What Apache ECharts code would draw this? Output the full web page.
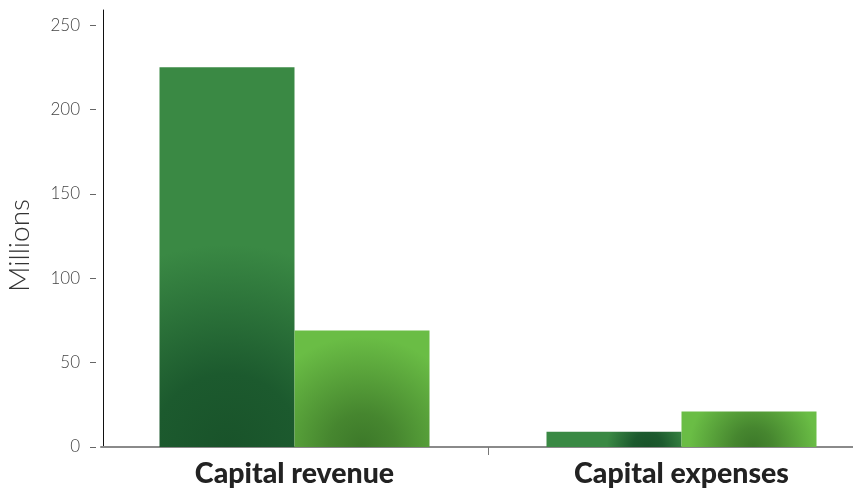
<!DOCTYPE html>
<html>
<head>
<meta charset="utf-8">
<style>
  html, body { margin: 0; padding: 0; background: #fff; }
  #chart { width: 853px; height: 488px; }
</style>
<script src="https://cdn.jsdelivr.net/npm/echarts@6/dist/echarts.min.js"></script>
</head>
<body>
<div id="chart"></div>
<script>
// Capital revenue vs. capital expenses, in millions
const categories = ['Capital revenue', 'Capital expenses'];
const seriesA = [225, 9];
const seriesB = [69, 21];
const yTicks = [0, 50, 100, 150, 200, 250];
const yAxisTitle = 'Millions';

// Dark glow rising from the foot of each bar
const glowA = { inner: '#19532a', mid: '#1c5a2e', outer: '#3a8944', stop: 0.36, r: [1.5, 2.7], x: [0.5, 0.75] };
const glowB = { inner: '#3c7829', mid: '#46862f', outer: '#6abd45', stop: 0.3, r: [0.95, 1.8], x: [0.5, 0.53] };

function glowColor(g) {
  return function (p) {
    const i = p.dataIndex;
    return new echarts.graphic.RadialGradient(g.x[i], 1, g.r[i], [
      { offset: 0, color: g.inner },
      { offset: g.stop, color: g.mid },
      { offset: 1, color: g.outer }
    ]);
  };
}

const chart = echarts.init(document.getElementById('chart'), null, { renderer: 'canvas' });

const yRange = { min: 0, max: 259 };

chart.setOption({
  animation: false,
  backgroundColor: '#ffffff',
  grid: {
    left: 101, width: 774, top: 10, bottom: 41,
    containLabel: false, outerBoundsMode: 'none'
  },
  xAxis: [
    {
      type: 'category',
      data: categories,
      axisLine: { show: true, lineStyle: { color: '#8a8a8a', width: 2 } },
      axisTick: { show: false },
      axisLabel: { show: false },
      splitLine: { show: false }
    },
    {
      // labels centred on each category, one divider tick between them
      type: 'value',
      min: 0, max: categories.length,
      position: 'bottom',
      offset: 4,
      axisLine: { show: false },
      axisTick: {
        show: true, length: 8, customValues: [1],
        lineStyle: { color: '#777', width: 1 }
      },
      axisLabel: {
        show: true, margin: 8,
        customValues: categories.map(function (c, i) { return i + 0.5; }),
        formatter: function (v) { return categories[Math.floor(v)]; },
        fontFamily: 'Lato', fontWeight: 900, fontSize: 28.5, color: '#222'
      },
      splitLine: { show: false }
    }
  ],
  yAxis: [
    {
      type: 'value', min: yRange.min, max: yRange.max, offset: -2,
      axisLine: { show: true, lineStyle: { color: '#111', width: 1 } },
      axisTick: { show: false },
      axisLabel: { show: false },
      splitLine: { show: false }
    },
    {
      type: 'value', min: yRange.min, max: yRange.max, offset: 5,
      position: 'left',
      name: yAxisTitle,
      nameLocation: 'middle',
      nameGap: 62,
      nameRotate: 90,
      nameTextStyle: {
        fontFamily: 'Lato', fontWeight: 300, fontSize: 28, color: '#333',
        padding: [0, 34, 0, 0]
      },
      axisLine: { show: false },
      axisTick: {
        show: true, length: 6, customValues: yTicks,
        lineStyle: { color: '#666', width: 1 }
      },
      axisLabel: {
        show: true, margin: 16, customValues: yTicks,
        fontFamily: 'Lato', fontWeight: 300, fontSize: 17, color: '#444',
        padding: [0, 0, 6, 0]
      },
      splitLine: { show: false }
    }
  ],
  series: [
    {
      type: 'bar',
      xAxisIndex: 0, yAxisIndex: 0,
      data: seriesA,
      barWidth: 135,
      barGap: '0%',
      itemStyle: { color: glowColor(glowA) }
    },
    {
      type: 'bar',
      xAxisIndex: 0, yAxisIndex: 0,
      data: seriesB,
      barWidth: 135,
      barGap: '0%',
      itemStyle: { color: glowColor(glowB) }
    }
  ]
});
</script>
</body>
</html>
